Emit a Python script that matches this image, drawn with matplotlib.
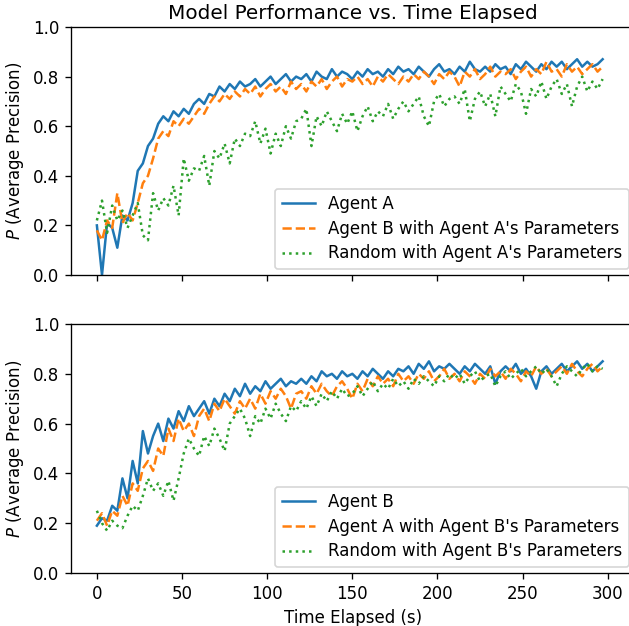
import numpy as np
import matplotlib
matplotlib.use('Agg')
from matplotlib import pyplot as plt

# time axis, one sample every 3 s
t = np.arange(0, 300, 3)

# top panel
agent_a = [0.20, 0.00, 0.21, 0.19, 0.11, 0.24, 0.22, 0.29, 0.42, 0.45,
           0.52, 0.55, 0.61, 0.64, 0.62, 0.66, 0.64, 0.67, 0.65, 0.69,
           0.71, 0.69, 0.73, 0.72, 0.76, 0.74, 0.77, 0.75, 0.78, 0.76,
           0.77, 0.79, 0.76, 0.78, 0.80, 0.77, 0.79, 0.81, 0.78, 0.80,
           0.79, 0.81, 0.78, 0.82, 0.80, 0.79, 0.83, 0.80, 0.82, 0.81,
           0.79, 0.82, 0.80, 0.83, 0.81, 0.82, 0.80, 0.83, 0.81, 0.84,
           0.82, 0.83, 0.81, 0.84, 0.82, 0.80, 0.83, 0.85, 0.82, 0.83,
           0.81, 0.84, 0.82, 0.86, 0.83, 0.82, 0.84, 0.82, 0.85, 0.83,
           0.84, 0.81, 0.85, 0.83, 0.86, 0.84, 0.82, 0.85, 0.83, 0.86,
           0.84, 0.86, 0.83, 0.85, 0.87, 0.84, 0.86, 0.84, 0.85, 0.87]
b_with_a = [0.18, 0.14, 0.22, 0.19, 0.33, 0.21, 0.25, 0.22, 0.29, 0.37,
            0.40, 0.47, 0.55, 0.58, 0.56, 0.62, 0.60, 0.63, 0.61, 0.64,
            0.67, 0.65, 0.69, 0.72, 0.70, 0.73, 0.71, 0.74, 0.72, 0.75,
            0.73, 0.76, 0.72, 0.75, 0.77, 0.74, 0.76, 0.73, 0.78, 0.75,
            0.77, 0.74, 0.78, 0.76, 0.79, 0.75, 0.78, 0.80, 0.76, 0.79,
            0.78, 0.80, 0.77, 0.79, 0.76, 0.80, 0.78, 0.81, 0.79, 0.77,
            0.80, 0.78, 0.81, 0.79, 0.82, 0.80, 0.77, 0.81, 0.79, 0.82,
            0.80, 0.76, 0.82, 0.80, 0.83, 0.79, 0.81, 0.84, 0.80, 0.82,
            0.81, 0.83, 0.79, 0.82, 0.84, 0.80, 0.83, 0.81, 0.86, 0.82,
            0.83, 0.80, 0.85, 0.82, 0.84, 0.81, 0.83, 0.85, 0.82, 0.84]
rand_with_a = [0.22, 0.30, 0.17, 0.28, 0.22, 0.26, 0.19, 0.24, 0.29, 0.16,
               0.14, 0.33, 0.26, 0.31, 0.28, 0.36, 0.24, 0.47, 0.38, 0.43,
               0.42, 0.48, 0.36, 0.50, 0.47, 0.53, 0.45, 0.55, 0.52, 0.57,
               0.56, 0.62, 0.53, 0.59, 0.49, 0.57, 0.52, 0.60, 0.55, 0.62,
               0.63, 0.67, 0.52, 0.64, 0.60, 0.66, 0.62, 0.58, 0.65, 0.61,
               0.66, 0.58, 0.64, 0.68, 0.62, 0.66, 0.64, 0.69, 0.63, 0.67,
               0.70, 0.66, 0.69, 0.72, 0.64, 0.60, 0.70, 0.73, 0.68, 0.71,
               0.72, 0.69, 0.75, 0.62, 0.71, 0.74, 0.68, 0.73, 0.64, 0.76,
               0.73, 0.70, 0.77, 0.74, 0.65, 0.75, 0.72, 0.78, 0.71, 0.76,
               0.79, 0.73, 0.77, 0.68, 0.76, 0.80, 0.74, 0.78, 0.75, 0.79]

# bottom panel
agent_b = [0.19, 0.22, 0.21, 0.27, 0.25, 0.38, 0.30, 0.45, 0.36, 0.57,
           0.48, 0.55, 0.60, 0.53, 0.62, 0.58, 0.65, 0.61, 0.67, 0.63,
           0.66, 0.69, 0.64, 0.70, 0.67, 0.72, 0.69, 0.74, 0.71, 0.76,
           0.72, 0.75, 0.73, 0.77, 0.74, 0.76, 0.78, 0.75, 0.77, 0.76,
           0.78, 0.76, 0.79, 0.77, 0.81, 0.79, 0.80, 0.78, 0.81, 0.79,
           0.80, 0.78, 0.81, 0.79, 0.82, 0.80, 0.78, 0.81, 0.79, 0.82,
           0.81, 0.83, 0.80, 0.84, 0.82, 0.85, 0.81, 0.83, 0.82, 0.84,
           0.82, 0.80, 0.83, 0.81, 0.84, 0.82, 0.80, 0.83, 0.76, 0.81,
           0.83, 0.81, 0.84, 0.80, 0.82, 0.79, 0.74, 0.81, 0.83, 0.80,
           0.82, 0.84, 0.81, 0.83, 0.85, 0.82, 0.84, 0.81, 0.83, 0.85]
a_with_b = [0.21, 0.24, 0.19, 0.25, 0.23, 0.31, 0.27, 0.36, 0.33, 0.42,
            0.45, 0.41, 0.50, 0.47, 0.58, 0.53, 0.62, 0.57, 0.60, 0.55,
            0.63, 0.66, 0.61, 0.68, 0.65, 0.70, 0.67, 0.64, 0.69, 0.66,
            0.70, 0.66, 0.72, 0.68, 0.73, 0.70, 0.74, 0.71, 0.66, 0.72,
            0.73, 0.70, 0.75, 0.72, 0.76, 0.73, 0.71, 0.75, 0.77, 0.74,
            0.70, 0.76, 0.73, 0.78, 0.75, 0.79, 0.76, 0.78, 0.75, 0.80,
            0.77, 0.79, 0.76, 0.80, 0.78, 0.81, 0.77, 0.79, 0.82, 0.78,
            0.80, 0.77, 0.81, 0.79, 0.76, 0.80, 0.78, 0.82, 0.79, 0.81,
            0.78, 0.82, 0.80, 0.77, 0.81, 0.79, 0.83, 0.80, 0.82, 0.79,
            0.81, 0.83, 0.80, 0.84, 0.81, 0.79, 0.82, 0.84, 0.81, 0.83]
rand_with_b = [0.25, 0.20, 0.17, 0.21, 0.19, 0.18, 0.23, 0.27, 0.25, 0.31,
               0.38, 0.33, 0.36, 0.31, 0.37, 0.29, 0.38, 0.48, 0.54, 0.50,
               0.47, 0.55, 0.51, 0.58, 0.54, 0.49, 0.60, 0.63, 0.66, 0.62,
               0.55, 0.63, 0.60, 0.66, 0.62, 0.68, 0.64, 0.61, 0.67, 0.65,
               0.69, 0.66, 0.71, 0.67, 0.72, 0.69, 0.73, 0.70, 0.74, 0.71,
               0.72, 0.75, 0.71, 0.74, 0.77, 0.73, 0.76, 0.74, 0.78, 0.75,
               0.77, 0.74, 0.78, 0.76, 0.79, 0.77, 0.75, 0.79, 0.77, 0.80,
               0.78, 0.80, 0.76, 0.79, 0.81, 0.77, 0.79, 0.80, 0.75, 0.79,
               0.81, 0.78, 0.80, 0.82, 0.79, 0.81, 0.83, 0.80, 0.82, 0.79,
               0.75, 0.80, 0.83, 0.81, 0.79, 0.82, 0.84, 0.81, 0.83, 0.82]

top_labels = ["Agent A", "Agent B with Agent A's Parameters",
              "Random with Agent A's Parameters"]
bottom_labels = ["Agent B", "Agent A with Agent B's Parameters",
                 "Random with Agent B's Parameters"]

dpi = 120
W, H = 629, 626
fig, (ax1, ax2) = plt.subplots(2, 1, sharex=True, figsize=(W / dpi, H / dpi), dpi=dpi)
# axes boxes in pixels; the right spine sits just past the image edge
left, right = 71 / W, 635 / W
ax1.set_position([left, 1 - 275 / H, right - left, 248 / H])
ax2.set_position([left, 1 - 573 / H, right - left, 249 / H])

for ax, series, labels in ((ax1, (agent_a, b_with_a, rand_with_a), top_labels),
                           (ax2, (agent_b, a_with_b, rand_with_b), bottom_labels)):
    ax.plot(t, series[0], '-', color='C0', label=labels[0])
    ax.plot(t, series[1], '--', color='C1', label=labels[1])
    ax.plot(t, series[2], ':', color='C2', label=labels[2])
    ax.set_ylim(0, 1)
    ax.set_ylabel("$P$ (Average Precision)")
    ax.legend(loc='lower right', labelspacing=0.4, borderaxespad=0.35)

ax2.set_xlim(-15.2, 316.0)
ax1.set_title("Model Performance vs. Time Elapsed", fontsize=12, pad=5)
ax2.set_xlabel("Time Elapsed (s)")

plt.savefig('out.png', dpi=dpi)
